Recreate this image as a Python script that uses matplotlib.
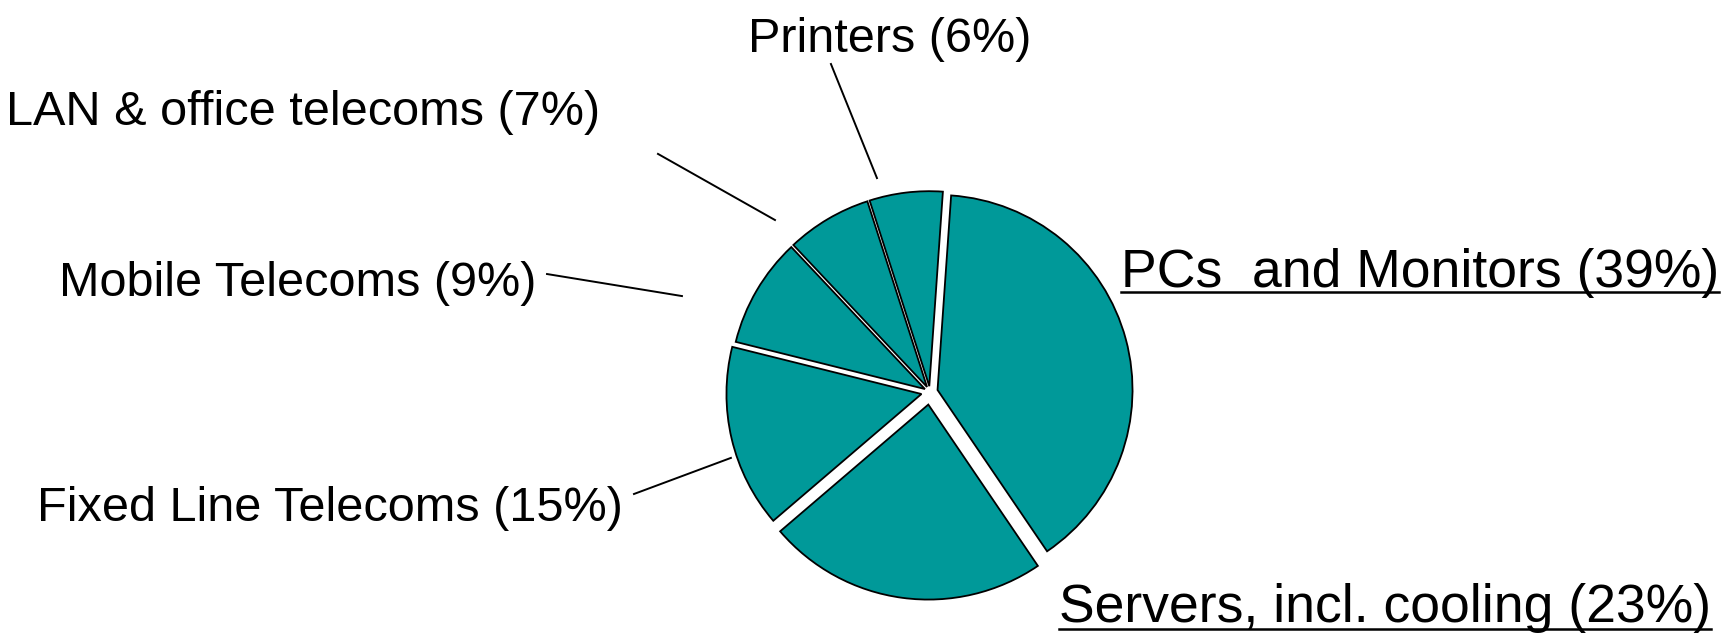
import matplotlib
matplotlib.use("Agg")
import matplotlib.pyplot as plt

plt.rcParams['font.family'] = ['Liberation Sans', 'DejaVu Sans']

# data
categories = ['PCs  and Monitors', 'Servers, incl. cooling', 'Fixed Line Telecoms',
              'Mobile Telecoms', 'LAN & office telecoms', 'Printers']
shares = [39, 23, 15, 9, 7, 6]
explode = [0.04, 0.065, 0.045, 0.03, 0.03, 0.03]

fig = plt.figure(figsize=(17.26, 6.33), dpi=100)
ax = fig.add_axes([0, 0, 1, 1])

wedges, _ = ax.pie(shares, explode=explode, startangle=86, counterclock=False,
                   colors=['#009999'] * len(shares),
                   wedgeprops=dict(edgecolor='black', linewidth=1.3))

# pie radius 1 == 195 px, centre at (930, 392) px from top-left
ax.set_xlim(-930 / 195, (1726 - 930) / 195)
ax.set_ylim((392 - 633) / 195, 392 / 195)
ax.set_aspect('equal', adjustable='box')
ax.axis('off')

fs = 35
fs_big = 38.5
labels = [f"{c} ({s}%)" for c, s in zip(categories, shares)]

# right hand labels, underlined, no leader line
t_pc = ax.text(0.979, 0.538, labels[0], fontsize=fs_big, ha='left', va='baseline')
t_srv = ax.text(0.662, -1.179, labels[1], fontsize=fs_big, ha='left', va='baseline')

# left hand labels with leader lines
ax.text(-1.574, -0.662, labels[2], fontsize=fs, ha='right', va='baseline')
ax.plot([-1.518, -1.021], [-0.523, -0.338], color='black', lw=1.4, clip_on=False)

ax.text(-2.021, 0.492, labels[3], fontsize=fs, ha='right', va='baseline')
ax.plot([-1.964, -1.272], [0.605, 0.492], color='black', lw=1.4, clip_on=False)

ax.text(-1.692, 1.369, labels[4], fontsize=fs, ha='right', va='baseline')
ax.plot([-1.395, -0.795], [1.221, 0.882], color='black', lw=1.4, clip_on=False)

ax.text(-0.205, 1.744, labels[5], fontsize=fs, ha='center', va='baseline')
ax.plot([-0.508, -0.272], [1.682, 1.097], color='black', lw=1.4, clip_on=False)

# underline the two big ones
fig.canvas.draw()
inv = ax.transData.inverted()
for t, uy in [(t_pc, 0.513), (t_srv, -1.215)]:
    bb = t.get_window_extent()
    x0 = inv.transform((bb.x0, 0))[0]
    x1 = inv.transform((bb.x1, 0))[0]
    ax.plot([x0, x1], [uy, uy], color='black', lw=1.8, clip_on=False)

fig.savefig('out.png', dpi=100)
